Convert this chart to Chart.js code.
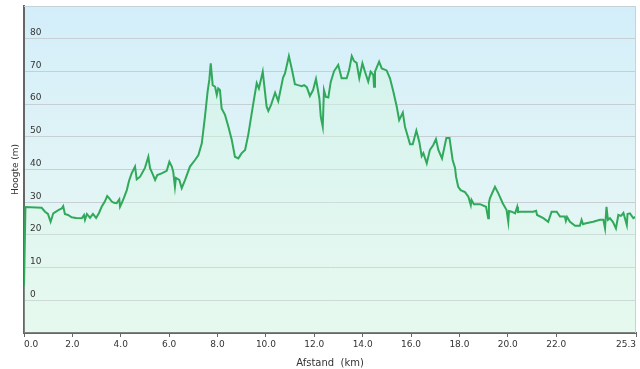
<!DOCTYPE html>
<html>
<head>
<meta charset="utf-8">
<script src="https://cdn.jsdelivr.net/npm/chart.js@4/dist/chart.umd.min.js"></script>
<style>
  html, body { margin: 0; padding: 0; background: #ffffff; }
  #wrap { width: 640px; height: 369px; position: relative; }
</style>
</head>
<body>
<div id="wrap"><canvas id="c"></canvas></div>
<script>
// Distance along the route (km)
const distanceKm = [
  0, 0.06, 0.73, 0.87, 0.99, 1.10, 1.21, 1.42, 1.56, 1.62, 1.69, 1.82, 1.97, 2.15, 2.39, 2.48, 2.52, 2.60, 2.73, 2.85,
  2.98, 3.10, 3.21, 3.34, 3.44, 3.51, 3.63, 3.72, 3.83, 3.94, 3.97, 4.04, 4.13, 4.25, 4.34, 4.45, 4.59, 4.66, 4.80, 5.00,
  5.14, 5.21, 5.32, 5.42, 5.51, 5.69, 5.90, 6.01, 6.11, 6.17, 6.24, 6.28, 6.42, 6.52, 6.66, 6.86, 7.07, 7.21, 7.35, 7.48,
  7.59, 7.66, 7.72, 7.80, 7.90, 7.97, 8.03, 8.10, 8.17, 8.31, 8.45, 8.59, 8.72, 8.86, 9.00, 9.14, 9.27, 9.48, 9.62, 9.71,
  9.87, 10.03, 10.10, 10.21, 10.38, 10.51, 10.71, 10.79, 10.95, 11.08, 11.20, 11.33, 11.48, 11.58, 11.69, 11.82, 11.95, 12.07, 12.21, 12.27,
  12.35, 12.40, 12.48, 12.58, 12.68, 12.82, 12.99, 13.13, 13.34, 13.44, 13.55, 13.64, 13.75, 13.86, 13.99, 14.10, 14.23, 14.33, 14.44, 14.47,
  14.51, 14.68, 14.79, 14.99, 15.13, 15.27, 15.41, 15.51, 15.66, 15.75, 15.96, 16.07, 16.22, 16.34, 16.44, 16.51, 16.65, 16.78, 16.92, 17.03,
  17.13, 17.28, 17.46, 17.59, 17.72, 17.82, 17.86, 17.95, 18.05, 18.23, 18.37, 18.47, 18.50, 18.60, 18.85, 19.10, 19.19, 19.22, 19.26, 19.47,
  19.61, 19.79, 19.95, 20.02, 20.05, 20.16, 20.30, 20.39, 20.42, 20.50, 21.05, 21.17, 21.21, 21.47, 21.67, 21.81, 22.02, 22.16, 22.36, 22.40,
  22.45, 22.57, 22.78, 22.98, 23.05, 23.11, 23.19, 23.53, 23.81, 23.95, 24.02, 24.08, 24.14, 24.22, 24.35, 24.47, 24.57, 24.68, 24.78, 24.92,
  24.95, 25.05, 25.19, 25.30
];
// Elevation (m)
const elevationM = [
  4.4, 28.5, 28.3, 27.1, 26.4, 24.0, 26.6, 27.6, 28.1, 28.8, 26.4, 26.1, 25.4, 25.2, 25.1, 26.1, 24.6, 26.4, 25.2, 26.4,
  25.2, 26.7, 28.6, 30.2, 31.9, 31.3, 30.2, 29.8, 29.7, 30.9, 28.6, 29.7, 31.3, 33.7, 36.5, 38.8, 40.9, 37.0, 37.8, 40.5,
  43.9, 40.4, 38.6, 36.8, 38.3, 38.8, 39.6, 42.4, 40.9, 39.3, 34.7, 37.4, 36.8, 34.3, 36.8, 40.9, 42.9, 44.4, 48.0, 56.1,
  63.8, 67.4, 72.5, 65.8, 65.3, 62.8, 64.8, 64.3, 58.7, 56.7, 53.1, 49.0, 43.9, 43.4, 45.0, 46.0, 50.6, 60.2, 66.4, 64.8,
  69.9, 59.2, 57.9, 59.7, 63.5, 60.9, 68.1, 69.4, 74.7, 70.4, 66.1, 65.8, 65.5, 65.8, 65.2, 62.5, 64.3, 67.7, 61.8, 56.1,
  53.1, 64.3, 62.2, 62.0, 66.8, 70.1, 72.0, 67.9, 67.9, 70.4, 74.7, 73.2, 72.6, 67.9, 72.5, 69.8, 66.9, 69.9, 68.9, 65.3,
  69.9, 73.0, 70.9, 70.3, 67.9, 63.8, 59.2, 55.1, 57.4, 53.1, 47.7, 47.7, 51.9, 48.5, 44.1, 45.0, 41.9, 46.0, 47.5, 49.3,
  46.0, 43.4, 49.6, 49.6, 42.9, 40.5, 37.8, 34.7, 33.7, 33.1, 31.7, 29.1, 30.7, 29.4, 29.4, 28.6, 25.1, 29.8, 31.2, 34.7,
  32.7, 29.7, 27.6, 24.0, 27.3, 27.1, 26.6, 28.6, 27.0, 27.1, 27.1, 27.4, 26.1, 25.1, 24.0, 27.1, 27.1, 25.6, 25.6, 24.3,
  25.5, 24.0, 22.8, 22.8, 24.6, 23.3, 23.5, 24.0, 24.6, 24.6, 22.0, 28.6, 24.6, 25.1, 23.9, 22.0, 26.1, 25.8, 26.7, 23.0,
  26.4, 26.6, 25.1, 25.6
];
// Axis tick values
const xTickValues = [0, 2, 4, 6, 8, 10, 12, 14, 16, 18, 20, 22, 25.3];
const yTickLabels = [0, 10, 20, 30, 40, 50, 60, 70, 80];

const points = distanceKm.map((d, i) => ({ x: d, y: elevationM[i] }));
const FONT = 'DejaVu Sans, Verdana, sans-serif';

const bgPlugin = {
  id: 'plotBg',
  beforeDraw(chart) {
    const { ctx, chartArea: a } = chart;
    ctx.save();
    const g = ctx.createLinearGradient(0, a.top, 0, a.bottom);
    g.addColorStop(0, '#d3eefa');
    g.addColorStop(0.5, '#e1f4f6');
    g.addColorStop(1, '#e8f9ef');
    ctx.fillStyle = g;
    ctx.fillRect(a.left, a.top, a.right - a.left, a.bottom - a.top);
    ctx.restore();
  },
  afterDraw(chart) {
    const { ctx, chartArea: a } = chart;
    ctx.save();
    ctx.strokeStyle = '#c6d2d8';
    ctx.lineWidth = 1;
    ctx.beginPath();
    ctx.moveTo(a.left, a.top + 0.5);
    ctx.lineTo(a.right - 0.5, a.top + 0.5);
    ctx.lineTo(a.right - 0.5, a.bottom);
    ctx.stroke();
    ctx.restore();
  }
};

new Chart(document.getElementById('c'), {
  type: 'line',
  data: {
    datasets: [{
      data: points,
      borderColor: '#30a95b',
      borderWidth: 2,
      pointRadius: 0,
      tension: 0,
      fill: 'start',
      backgroundColor: (ctx) => {
        const a = ctx.chart.chartArea;
        if (!a) return 'rgba(200,245,215,0.3)';
        const g = ctx.chart.ctx.createLinearGradient(0, a.top, 0, a.bottom);
        g.addColorStop(0, 'rgba(205,245,220,0.55)');
        g.addColorStop(1, 'rgba(225,250,235,0.2)');
        return g;
      }
    }]
  },
  options: {
    responsive: true,
    maintainAspectRatio: false,
    animation: false,
    layout: { padding: { top: 6, right: 4, left: 0, bottom: 0 } },
    plugins: { legend: { display: false }, tooltip: { enabled: false } },
    scales: {
      x: {
        type: 'linear',
        min: 0,
        max: 25.3,
        afterFit(s) { s.height = 36; s.paddingLeft = 0; s.paddingRight = 0; },
        afterBuildTicks(s) { s.ticks = xTickValues.map(v => ({ value: v })); },
        ticks: {
          align: 'inner',
          autoSkip: false,
          maxRotation: 0,
          padding: 2,
          color: '#333',
          font: { family: FONT, size: 9 },
          callback: (v) => Number(v).toFixed(1)
        },
        grid: { drawOnChartArea: false, drawTicks: true, tickLength: 4, tickColor: '#666' },
        border: { color: '#666', width: 2 },
        title: {
          display: true,
          text: 'Afstand  (km)',
          color: '#333',
          font: { family: FONT, size: 10 },
          padding: { top: 2, bottom: 0 }
        }
      },
      y: {
        min: -10,
        max: 90,
        afterFit(s) { s.width = 24; s.paddingTop = 0; s.paddingBottom = 0; },
        afterBuildTicks(s) {
          const t = [{ value: -10 }];
          yTickLabels.forEach(v => t.push({ value: v }));
          t.push({ value: 90 });
          s.ticks = t;
        },
        ticks: {
          z: 1,
          mirror: true,
          padding: 6,
          labelOffset: -6,
          color: '#333',
          font: { family: FONT, size: 9 },
          callback: (v) => yTickLabels.includes(v) ? String(v) : ''
        },
        grid: {
          drawTicks: false,
          color: (c) => (c.tick && (c.tick.value === -10 || c.tick.value === 90)) ? 'rgba(0,0,0,0)' : '#c6d0d4'
        },
        border: { color: '#666', width: 2 },
        title: {
          display: true,
          text: 'Hoogte (m)',
          color: '#333',
          font: { family: FONT, size: 9 },
          padding: { top: 10, bottom: 0 }
        }
      }
    }
  },
  plugins: [bgPlugin]
});
</script>
</body>
</html>
